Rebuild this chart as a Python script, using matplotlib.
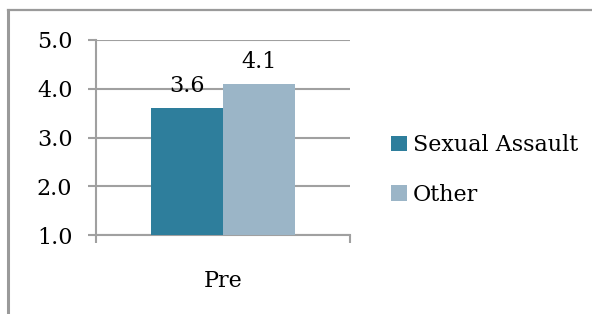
import matplotlib.pyplot as plt
from matplotlib.lines import Line2D

categories = ["Pre"]
series_names = ["Sexual Assault", "Other"]
series_values = [[3.6], [4.1]]
colors = ["#2E7E9C", "#9BB5C7"]
y_ticks = [1.0, 2.0, 3.0, 4.0, 5.0]

W, H = 592, 314
FS = 16
plt.rcParams['font.family'] = ['DejaVu Serif']
plt.rcParams['font.size'] = FS

fig = plt.figure(figsize=(W / 100, H / 100), dpi=100)

# outer chart border (top and left edges visible)
fig.add_artist(Line2D([8 / W, 8 / W], [0, 1 - 10 / H], color="#9a9a9a", lw=2.2,
                      transform=fig.transFigure))
fig.add_artist(Line2D([8 / W, 1], [1 - 10 / H, 1 - 10 / H], color="#9a9a9a", lw=1.6,
                      transform=fig.transFigure))

ax = fig.add_axes([96 / W, 1 - 235 / H, (350 - 96) / W, (235 - 40) / H])

width = 0.285
for i, (name, vals) in enumerate(zip(series_names, series_values)):
    xs = [k + (i - 0.5) * width for k in range(len(categories))]
    bars = ax.bar(xs, [v - 1.0 for v in vals], width, bottom=1.0, color=colors[i],
                  label=name, zorder=3)
    for b, v in zip(bars, vals):
        ax.annotate(f"{v:.1f}", (b.get_x() + b.get_width() / 2, v),
                    xytext=(0, 8), textcoords="offset points",
                    ha="center", va="bottom", fontsize=FS)

ax.set_xlim(-0.5, len(categories) - 0.5)
ax.set_ylim(1.0, 5.0)
ax.set_yticks(y_ticks)
ax.set_yticklabels([f"{t:.1f}" for t in y_ticks])
ax.yaxis.grid(True, color="#a0a0a0", lw=1.5, zorder=0)
ax.set_axisbelow(True)

ax.set_xticks(range(len(categories)))
ax.set_xticklabels(categories)
ax.set_xticks([k - 0.5 for k in range(len(categories) + 1)], minor=True)
ax.tick_params(axis="x", which="major", length=0, pad=25, labelsize=FS)
ax.tick_params(axis="x", which="minor", length=6, width=1.5, color="#a0a0a0", direction="out")
ax.tick_params(axis="y", length=6, width=1.5, color="#a0a0a0", pad=11, labelsize=FS)

for s in ["top", "right"]:
    ax.spines[s].set_visible(False)
for s in ["left", "bottom"]:
    ax.spines[s].set_color("#a0a0a0")
    ax.spines[s].set_linewidth(1.5)

fig.legend(loc="center left", bbox_to_anchor=(391 / W, 1 - 170 / H), frameon=False,
           fontsize=FS, handlelength=0.7, handleheight=0.7, handletextpad=0.3,
           labelspacing=1.25, borderpad=0, borderaxespad=0)

fig.savefig("out.png", dpi=100)
